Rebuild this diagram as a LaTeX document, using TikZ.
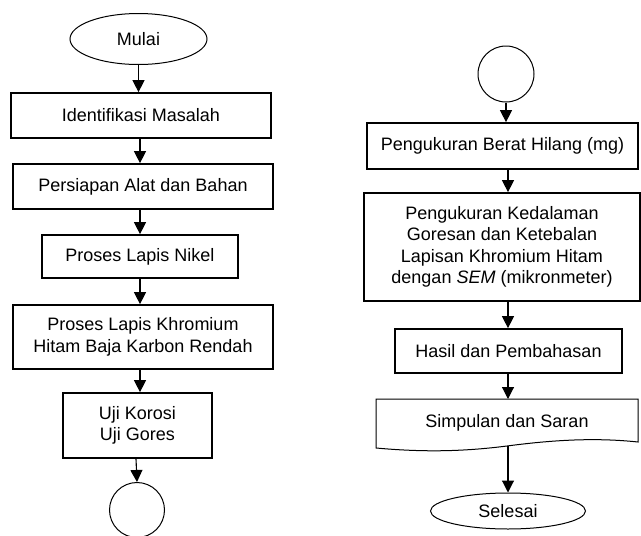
\documentclass[tikz,border=0pt]{standalone}
\usepackage{fontspec}
\setmainfont{Liberation Sans}
\usetikzlibrary{arrows.meta,shapes.geometric}
\begin{document}
\begin{tikzpicture}[x=1pt,y=-1pt,
  every node/.style={font=\fontsize{18}{21.5}\selectfont, align=center, inner sep=0pt},
  pbox/.style={draw, line width=1.7pt, rectangle},
  term/.style={draw, line width=1pt, ellipse},
  conn/.style={draw, line width=1pt, circle},
  arr/.style={line width=1.1pt, -{Triangle[length=12pt,width=12pt]}}]
\useasboundingbox (0,0) rectangle (641,536);
% left column
\node[term, minimum width=137pt, minimum height=51pt] (mulai) at (138.5,39) {Mulai};
\node[pbox, minimum width=260pt, minimum height=45pt] (id) at (141,115.5) {Identifikasi Masalah};
\node[pbox, minimum width=260pt, minimum height=45pt] (prep) at (143,186.5) {Persiapan Alat dan Bahan};
\node[pbox, minimum width=196pt, minimum height=43pt] (nikel) at (140,256.5) {Proses Lapis Nikel};
\node[pbox, minimum width=260pt, minimum height=64pt] (khrom) at (143,337) {Proses Lapis Khromium\\Hitam Baja Karbon Rendah};
\node[pbox, minimum width=149pt, minimum height=65pt] (uji) at (137.5,425.5) {Uji Korosi\\Uji Gores};
\node[conn, minimum size=55pt] (cl) at (137,510) {};
\coordinate (lx) at (140,0);
\coordinate (lx2) at (136,0);
\draw[arr] (mulai.south) -- (mulai.south |- id.north);
\draw[arr] (lx |- id.south) -- (lx |- prep.north);
\draw[arr] (lx |- prep.south) -- (lx |- nikel.north);
\draw[arr] (lx |- nikel.south) -- (lx |- khrom.north);
\draw[arr] (lx |- khrom.south) -- (lx |- uji.north);
\draw[arr] (lx2 |- uji.south) -- (cl.north);
% right column
\node[conn, minimum size=56pt] (cr) at (506,74) {};
\node[pbox, minimum width=271pt, minimum height=46pt] (berat) at (502.5,146) {Pengukuran Berat Hilang (mg)};
\node[pbox, minimum width=276pt, minimum height=108pt] (sem) at (502,247) {Pengukuran Kedalaman\\Goresan dan Ketebalan\\Lapisan Khromium Hitam\\dengan \textit{SEM} (mikronmeter)};
\node[pbox, minimum width=227pt, minimum height=44pt] (hasil) at (508.5,351) {Hasil dan Pembahasan};
\node (simp) at (507,423) {Simpulan dan Saran};
\coordinate (stop) at (508,399);
\draw[line width=1pt] (376,442) -- (376,399) -- (638,399) -- (638,442)
  .. controls (600,438) and (560,439) .. (507,446) .. controls (460,452) and (420,452) .. (376,448) -- cycle;
\coordinate (simpbot) at (508,446);
\coordinate (rx) at (508,0);
\node[term, minimum width=155pt, minimum height=36pt] (selesai) at (508,511) {Selesai};
\draw[arr] (cr.south) -- (cr.south |- berat.north);
\draw[arr] (rx |- berat.south) -- (rx |- sem.north);
\draw[arr] (rx |- sem.south) -- (rx |- hasil.north);
\draw[arr] (rx |- hasil.south) -- (stop);
\draw[arr] (simpbot) -- (selesai.north);
\end{tikzpicture}
\end{document}
